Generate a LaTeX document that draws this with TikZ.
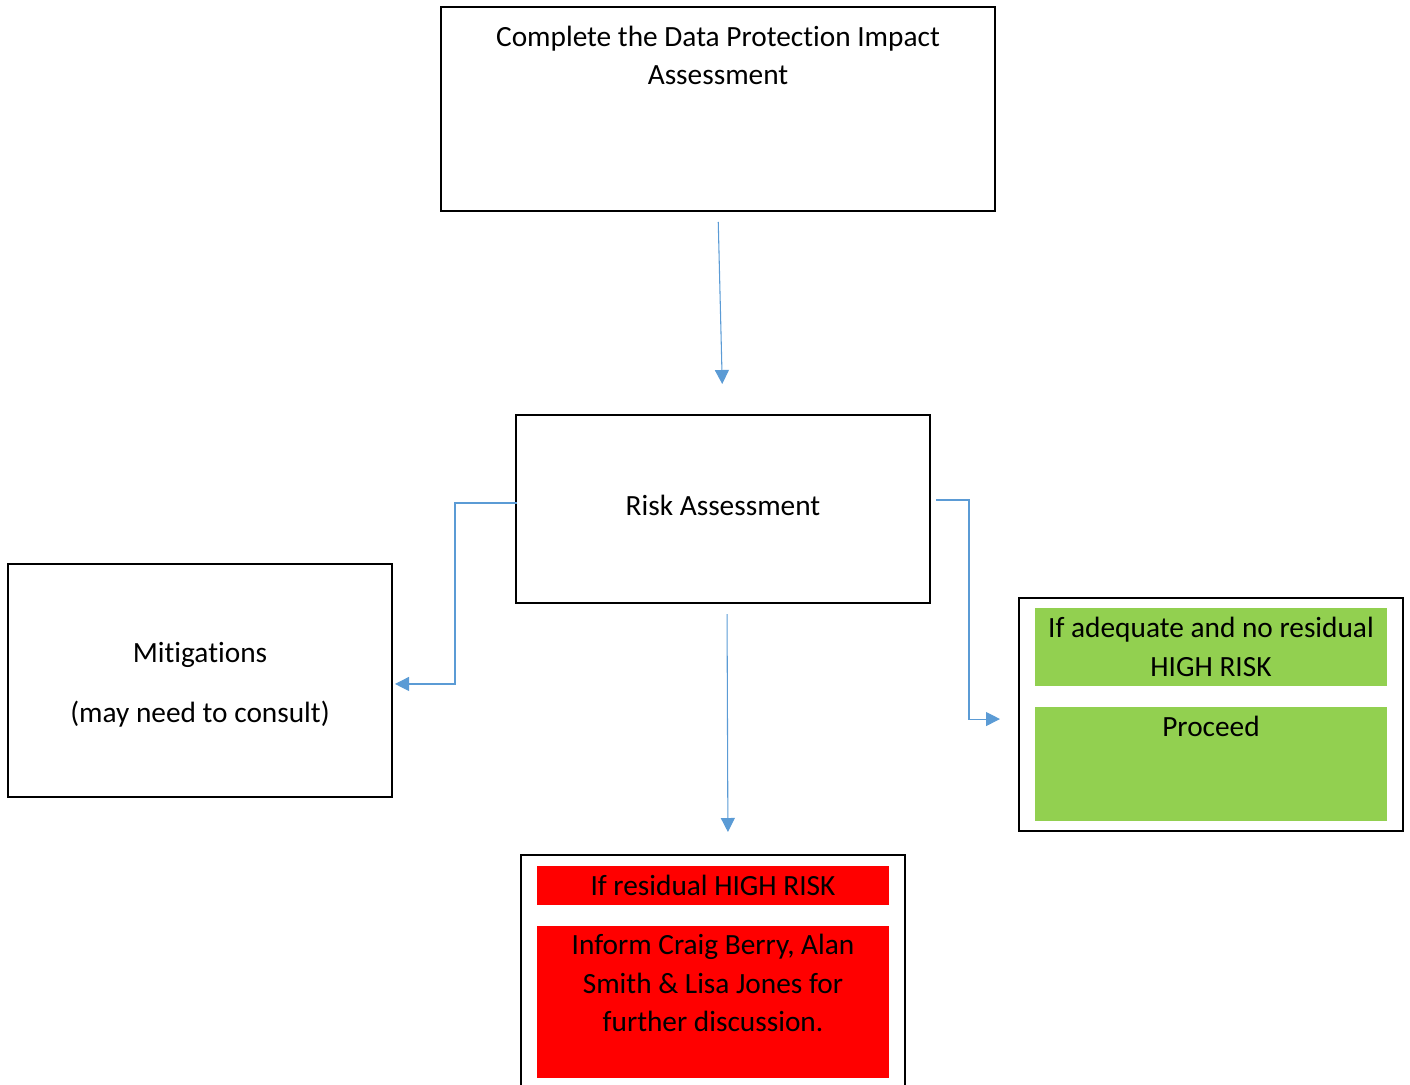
\documentclass[tikz,border=0pt]{standalone}
\usepackage{fontspec}
\setmainfont{Carlito}[Ligatures=NoCommon]
\usepackage{tikz}
\usetikzlibrary{arrows.meta}
\definecolor{linkblue}{HTML}{5B9BD5}
\definecolor{okgreen}{HTML}{92D050}
\definecolor{riskred}{HTML}{FF0000}

\begin{document}
\begin{tikzpicture}[x=0.75pt,y=-0.75pt,font=\fontsize{22}{29}\selectfont,
main box/.style={rectangle,draw,line width=1.5pt,inner sep=0pt},
fill box/.style={rectangle,inner sep=0pt,minimum width=264pt,align=center},
link/.style={draw=linkblue,line width=0.8pt,-{Triangle[length=10.5pt,width=10.5pt]}}]
\useasboundingbox (0,0) rectangle (1410,1085);
% boxes
\node[main box,minimum width=415.5pt,minimum height=153pt] (dpia) at (718,109) {};
\node[align=center] (dpiatext) at (718,55.5) {Complete the Data Protection Impact\\Assessment};
\node[main box,minimum width=310.5pt,minimum height=141pt] (risk) at (723,509) {};
\node (risktext) at (723,505) {Risk Assessment};
\node[main box,minimum width=288pt,minimum height=174.75pt] (mitig) at (200,680.5) {};
\node[align=center] (mitigtext) at (200,684.5) {Mitigations\\[16pt](may need to consult)};
% right hand side, no residual risk
\node[main box,minimum width=288pt,minimum height=174.75pt] (ok) at (1211,714.5) {};
\node[fill box,fill=okgreen,minimum height=58.5pt] (okif) at (1211,647) {If adequate and no residual\\HIGH RISK};
\node[fill box,fill=okgreen,minimum height=85.5pt] (okdo) at (1211,764) {};
\node (okdotext) at (1211,726) {Proceed};
% bottom, residual risk
\node[main box,minimum width=288pt,minimum height=183.75pt] (high) at (713,977.5) {};
\node[fill box,fill=riskred,minimum height=29.25pt] (highif) at (713,885.5) {If residual HIGH RISK};
\node[fill box,fill=riskred,minimum height=114pt] (highdo) at (713,1002) {};
\node[align=center] (highdotext) at (713,983) {Inform Craig Berry, Alan\\Smith \& Lisa Jones for\\further discussion.};
% connectors
\draw[link,shorten <=7.5pt,shorten >=22.5pt] (dpia.south) -- (risk.north);
\draw[link] ([xshift=1.5pt,yshift=4.5pt]risk.west) -- ++(-62,0) |- ([xshift=1.5pt,yshift=-2.6pt]mitig.east);
\draw[link] ([xshift=3.75pt,yshift=6.75pt]risk.east) -- ++(33,0) |- ([xshift=-13.5pt,yshift=-3.4pt]ok.west);
\draw[link,shorten <=7.5pt,shorten >=16.5pt] ([xshift=3pt]risk.south) -- ([xshift=11.25pt]high.north);
\end{tikzpicture}
\end{document}
